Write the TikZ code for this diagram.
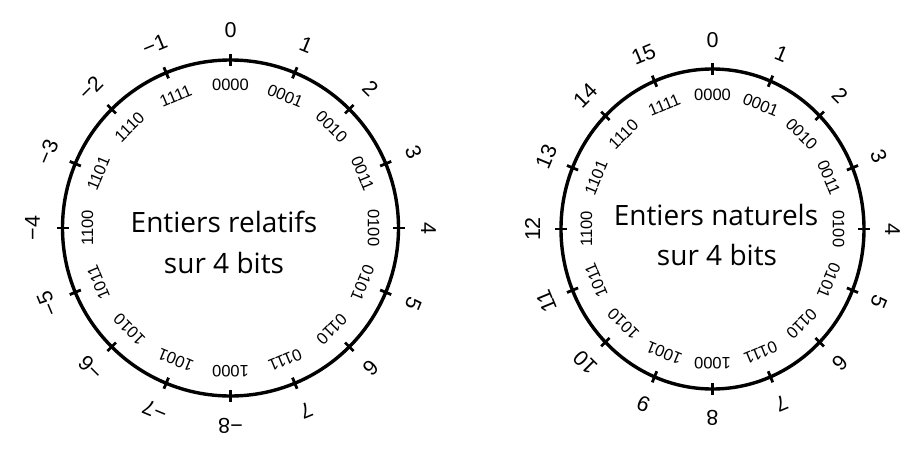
\documentclass[tikz,border=0pt]{standalone}
\usepackage{fontspec}
\setmainfont{Liberation Sans}
\newfontfamily\titlefont{Open Sans}
\begin{document}
\begin{tikzpicture}[x=1pt,y=1pt,
  ring/.style={line width=3.4pt},
  tickmark/.style={line width=2.8pt},
  binlbl/.style={font=\fontsize{16.5}{16.5}\selectfont, inner sep=0pt},
  numlbl/.style={font=\fontsize{21.5}{21.5}\selectfont, inner sep=0pt},
  titlelbl/.style={font=\titlefont\fontsize{28}{34}\selectfont, inner sep=0pt, anchor=base}]
\useasboundingbox[fill=white] (0,0) rectangle (922,-463);
% ---------- left: entiers relatifs ----------
\begin{scope}[shift={(230.5,-228)}]
  \draw[ring] (0,0) circle[radius=168];
  \foreach \k/\v/\b [evaluate=\k as \a using 90-22.5*\k] in
    {0/0/0000,1/1/0001,2/2/0010,3/3/0011,4/4/0100,5/5/0101,6/6/0110,7/7/0111,
     8/−8/1000,9/−7/1001,10/−6/1010,11/−5/1011,12/−4/1100,13/−3/1101,14/−2/1110,15/−1/1111}
  {
    \draw[tickmark] (\a:162) -- (\a:174);
    \node[binlbl, rotate=\a-90] (Lb\k) at (\a:143) {\b};
    \node[numlbl, rotate=\a-90] (Ln\k) at (\a:198) {\v};
  }
\end{scope}
\node[titlelbl] (Lt1) at (224,-232) {Entiers relatifs};
\node[titlelbl] (Lt2) at (224,-273) {sur 4 bits};
% ---------- right: entiers naturels ----------
\begin{scope}[shift={(712.5,-229)}]
  \draw[ring] (0,0) ellipse[x radius=151.5, y radius=160];
  \foreach \k [evaluate=\k as \a using 90-22.5*\k] in {0,...,15}
  {
    \pgfmathtruncatemacro{\bA}{mod(floor(\k/8),2)}
    \pgfmathtruncatemacro{\bB}{mod(floor(\k/4),2)}
    \pgfmathtruncatemacro{\bC}{mod(floor(\k/2),2)}
    \pgfmathtruncatemacro{\bD}{mod(\k,2)}
    \pgfmathtruncatemacro{\kk}{\k}
    \draw[tickmark] ({145.5*cos(\a)},{154*sin(\a)}) -- ({157.5*cos(\a)},{166*sin(\a)});
    \node[binlbl, rotate=\a-90] (Rb\kk) at ({126*cos(\a)},{134*sin(\a)}) {\bA\bB\bC\bD};
    \node[numlbl, rotate=\a-90] (Rn\kk) at ({180*cos(\a)},{189*sin(\a)}) {\kk};
  }
\end{scope}
\node[titlelbl] (Rt1) at (716,-225) {Entiers naturels};
\node[titlelbl] (Rt2) at (717,-265) {sur 4 bits};
\end{tikzpicture}
\end{document}
